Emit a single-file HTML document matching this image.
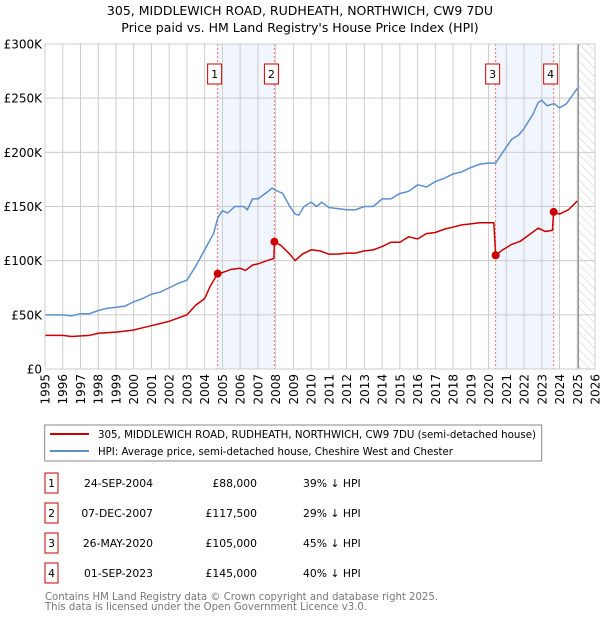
<!DOCTYPE html>
<html><head><meta charset="utf-8"><style>
body{margin:0;background:#fff;font-family:"DejaVu Sans","Liberation Sans",sans-serif;}
svg text{font-family:"DejaVu Sans","Liberation Sans",sans-serif;}
</style></head><body>
<svg id="c" width="600" height="620" xmlns="http://www.w3.org/2000/svg">
<defs><pattern id="hatch" width="6" height="6" patternUnits="userSpaceOnUse" patternTransform="rotate(-45)"><line x1="0" y1="0" x2="0" y2="6" stroke="#ccc" stroke-width="1"/></pattern></defs>
<text x="300" y="15" text-anchor="middle" font-size="12.5">305, MIDDLEWICH ROAD, RUDHEATH, NORTHWICH, CW9 7DU</text>
<text x="300" y="32" text-anchor="middle" font-size="12.5">Price paid vs. HM Land Registry's House Price Index (HPI)</text>
<g id="plot"></g>
<rect x="44.7" y="425" width="497" height="36" fill="#fff" stroke="#888"/>
<line x1="50" y1="434" x2="89" y2="434" stroke="#cc0000" stroke-width="2"/>
<text x="98" y="438" font-size="10.6" textLength="438" lengthAdjust="spacingAndGlyphs">305, MIDDLEWICH ROAD, RUDHEATH, NORTHWICH, CW9 7DU (semi-detached house)</text>
<line x1="50" y1="451" x2="89" y2="451" stroke="#5b8fd0" stroke-width="2"/>
<text x="98" y="455" font-size="10.6" textLength="355" lengthAdjust="spacingAndGlyphs">HPI: Average price, semi-detached house, Cheshire West and Chester</text>
<g id="table"></g>
<text x="45" y="600" font-size="10.5" fill="#777" textLength="393" lengthAdjust="spacingAndGlyphs">Contains HM Land Registry data © Crown copyright and database right 2025.</text>
<text x="45" y="610" font-size="10.5" fill="#777" textLength="322" lengthAdjust="spacingAndGlyphs">This data is licensed under the Open Government Licence v3.0.</text>
</svg>
<script>
const hpiYears=[1995,1996,1996.5,1997,1997.5,1998,1998.5,1999,1999.5,2000,2000.5,2001,2001.5,2002,2002.5,2003,2003.5,2004,2004.5,2004.75,2005,2005.3,2005.7,2006.2,2006.4,2006.7,2007,2007.5,2007.8,2008,2008.4,2008.8,2009.1,2009.3,2009.6,2010,2010.3,2010.6,2011,2011.5,2012,2012.5,2013,2013.5,2014,2014.5,2015,2015.5,2016,2016.5,2017,2017.5,2018,2018.5,2019,2019.5,2020,2020.4,2020.8,2021.3,2021.7,2022,2022.5,2022.8,2023,2023.3,2023.7,2024,2024.4,2024.7,2025.0];
const hpiValues=[50,50,49,51,51,54,56,57,58,62,65,69,71,75,79,82,95,110,125,140,146,144,150,150,147,157,157,163,167,165,162,150,143,142,150,154,150,154,149,148,147,147,150,150,157,157,162,164,170,168,173,176,180,182,186,189,190,190,200,212,216,222,235,246,248,243,245,241,245,252,259];
const ppYears=[1995,1996,1996.5,1997.5,1998,1999,1999.5,2000,2000.5,2001,2001.5,2002,2002.5,2003,2003.5,2004,2004.3,2004.73,2005,2005.5,2006,2006.3,2006.7,2007,2007.5,2007.9,2007.93,2008.3,2008.8,2009.1,2009.5,2010,2010.5,2011,2011.5,2012,2012.5,2013,2013.5,2014,2014.5,2015,2015.5,2016,2016.5,2017,2017.5,2018,2018.5,2019,2019.5,2020.3,2020.4,2020.8,2021.3,2021.8,2022.3,2022.8,2023.2,2023.6,2023.67,2024,2024.5,2025.0];
const ppValues=[31,31,30,31,33,34,35,36,38,40,42,44,47,50,59,65,76,88,89,92,93,91,96,97,100,102,117.5,114,106,100,106,110,109,106,106,107,107,109,110,113,117,117,122,120,125,126,129,131,133,134,135,135,105,110,115,118,124,130,127,128,145,143,147,155];
const saleLabels=["1","2","3","4"];
const saleYears=[2004.73,2007.93,2020.4,2023.67];
const salePrices=[88,117.5,105,145];
const saleDates=["24-SEP-2004","07-DEC-2007","26-MAY-2020","01-SEP-2023"];
const salePriceText=["£88,000","£117,500","£105,000","£145,000"];
const salePct=["39% ↓ HPI","29% ↓ HPI","45% ↓ HPI","40% ↓ HPI"];
const yTicks=[0,50,100,150,200,250,300];
const yTickLabels=["£0","£50K","£100K","£150K","£200K","£250K","£300K"];
const xTicks=[1995,1996,1997,1998,1999,2000,2001,2002,2003,2004,2005,2006,2007,2008,2009,2010,2011,2012,2013,2014,2015,2016,2017,2018,2019,2020,2021,2022,2023,2024,2025,2026];
const shadedRanges=[[2004.73,2007.93],[2020.4,2023.67]];
const forecastStart=2025.06;

const L=45,R=595,T=44,B=369;
const xs=y=>L+(y-1995)/(2026-1995)*(R-L);
const ys=v=>B-v/300*(B-T);
const NS="http://www.w3.org/2000/svg";
function mk(parent,tag,attrs){const e=document.createElementNS(NS,tag);for(const k in attrs)e.setAttribute(k,attrs[k]);parent.appendChild(e);return e;}
const g=document.getElementById('plot');
shadedRanges.forEach(r=>{
 const e=mk(g,'rect',{x:xs(r[0]),y:T,width:xs(r[1])-xs(r[0]),height:B-T,fill:'#eef3fc',opacity:0.8});
 
 
});
const hz=mk(g,'rect',{x:xs(forecastStart),y:T,width:R-xs(forecastStart),height:B-T,fill:'url(#hatch)'});


xTicks.forEach(t=>{
 const e=mk(g,'line',{x1:xs(t),x2:xs(t),y1:T,y2:B,stroke:'#cccccc','stroke-width':1});
 
 
 const tx=mk(g,'text',{x:0,y:0,'text-anchor':'end','font-size':12,transform:'translate('+(xs(t)+4.5)+','+(B+5)+') rotate(-90)'});
 tx.textContent=t;
 
 
});
yTicks.forEach((t,i)=>{
 const e=mk(g,'line',{x1:L,x2:R,y1:ys(t),y2:ys(t),stroke:'#cccccc','stroke-width':1});
 
 
 const tx=mk(g,'text',{x:L-3,y:ys(t)+4.5,'text-anchor':'end','font-size':12});
 tx.textContent=yTickLabels[i];
 
 
});
const fl=mk(g,'line',{x1:xs(forecastStart),x2:xs(forecastStart),y1:T,y2:B,stroke:'#888','stroke-width':1.2});


saleYears.forEach(y=>{
 const e=mk(g,'line',{x1:xs(y),x2:xs(y),y1:T,y2:B,stroke:'#f07070','stroke-width':1,'stroke-dasharray':'2,2'});
 
 
});
const hp=mk(g,'polyline',{points:hpiYears.map((y,i)=>xs(y)+','+ys(hpiValues[i])).join(' '),fill:'none',stroke:'#5b8fd0','stroke-width':1.5});


const pp=mk(g,'polyline',{points:ppYears.map((y,i)=>xs(y)+','+ys(ppValues[i])).join(' '),fill:'none',stroke:'#cc0000','stroke-width':1.5});


saleYears.forEach((y,i)=>{
 const c=mk(g,'circle',{cx:xs(y),cy:ys(salePrices[i]),r:4,fill:'#cc0000'});
 
 
 const bx=mk(g,'rect',{x:xs(y)-10,y:64,width:14,height:20,fill:'#fff',stroke:'#cc0000'});
 
 
 const t=mk(g,'text',{x:xs(y)-3,y:78,'text-anchor':'middle','font-size':11});
 t.textContent=saleLabels[i];
 
 
});
const pb=mk(g,'rect',{x:L,y:T,width:R-L,height:B-T,fill:'none',stroke:'#cccccc'});


const tb=document.getElementById('table');
saleLabels.forEach((s,i)=>{
 const cy=483+i*30;
 const b=mk(tb,'rect',{x:45,y:cy-10,width:13,height:20,fill:'#fff',stroke:'#cc0000'});
 
 
 const cells=[[51.5,'middle',s],[153,'end',saleDates[i]],[257,'end',salePriceText[i]],[303,'start',salePct[i]]];
 cells.forEach(c=>{
  const t=mk(tb,'text',{x:c[0],y:cy+4,'text-anchor':c[1],'font-size':10.8});
  t.textContent=c[2];
  
  
 });
});
</script>
</body></html>
